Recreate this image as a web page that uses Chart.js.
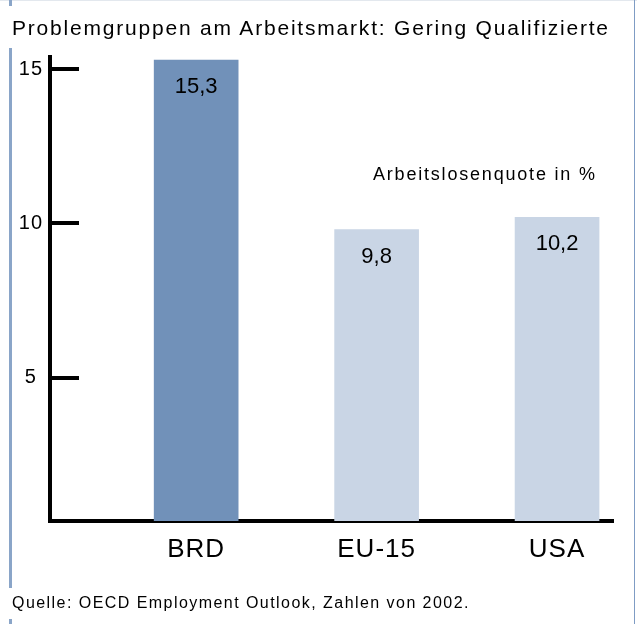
<!DOCTYPE html>
<html><head><meta charset="utf-8">
<script src="https://cdn.jsdelivr.net/npm/chart.js@4"></script>
<style>
html,body{margin:0;padding:0;background:#fff;}
#wrap{position:relative;width:637px;height:624px;overflow:hidden;font-family:"Liberation Sans",Arial,sans-serif;color:#000;}
#c{position:absolute;left:0;top:0;}
.title{position:absolute;left:12px;top:16px;font-size:21px;letter-spacing:1.8px;white-space:nowrap;}
.note{position:absolute;left:373px;top:164px;font-size:18px;letter-spacing:1.8px;white-space:nowrap;}
.src{position:absolute;left:12px;top:594px;font-size:16px;letter-spacing:1.45px;white-space:nowrap;}
.bl{position:absolute;left:9px;width:3px;background:#8aa5c8;}
.br{position:absolute;left:634px;top:0;width:1px;height:624px;background:#7f9cc4;}
.bt{position:absolute;left:0;top:0;width:637px;height:1px;background:#e3e8ee;}
</style></head><body>
<div id="wrap">
<canvas id="c" width="637" height="624"></canvas>
<div class="bt"></div>
<div class="bl" style="top:0;height:6px"></div>
<div class="bl" style="top:48px;height:540px"></div>
<div class="bl" style="top:619px;height:5px"></div>
<div class="br"></div>
<div class="title">Problemgruppen am Arbeitsmarkt: Gering Qualifizierte</div>
<div class="note">Arbeitslosenquote in %</div>
<div class="src">Quelle: OECD Employment Outlook, Zahlen von 2002.</div>
</div>
<script>
const categories = ['BRD', 'EU-15', 'USA'];
const values = [15.3, 9.8, 10.2];
const yTicks = [5, 10, 15];
const valueLabels = values.map(v => v.toFixed(1).replace('.', ','));

Chart.defaults.font.family = '"Liberation Sans", Arial, sans-serif';
Chart.defaults.color = '#000';

const textSpacing = {
  id: 'textSpacing',
  beforeDraw(chart) { chart.ctx.letterSpacing = '1px'; }
};

const yTickMarks = {
  id: 'yTickMarks',
  afterDraw(chart) {
    const {ctx, chartArea} = chart;
    const y = chart.scales.y;
    ctx.save();
    ctx.strokeStyle = '#000';
    ctx.lineWidth = 4;
    y.ticks.forEach(t => {
      const py = Math.round(y.getPixelForValue(t.value));
      ctx.beginPath();
      ctx.moveTo(chartArea.left, py);
      ctx.lineTo(chartArea.left + 29, py);
      ctx.stroke();
    });
    ctx.restore();
  }
};

const barValueLabels = {
  id: 'barValueLabels',
  afterDatasetsDraw(chart) {
    const {ctx} = chart;
    const meta = chart.getDatasetMeta(0);
    ctx.save();
    ctx.letterSpacing = '0px';
    ctx.fillStyle = '#000';
    ctx.font = '22px "Liberation Sans", Arial, sans-serif';
    ctx.textAlign = 'center';
    ctx.textBaseline = 'middle';
    meta.data.forEach((bar, i) => {
      ctx.fillText(valueLabels[i], bar.x, bar.y + 27);
    });
    ctx.restore();
  }
};

new Chart(document.getElementById('c'), {
  type: 'bar',
  data: {
    datasets: [{
      data: categories.map((c, i) => ({x: i + 1, y: values[i]})),
      backgroundColor: ['#7191b9', '#c9d5e5', '#c9d5e5'],
      borderWidth: 0,
      barThickness: 84,
      clip: 0
    }]
  },
  options: {
    responsive: false,
    animation: false,
    layout: {padding: {left: 12, top: 57, right: 24, bottom: 0}},
    plugins: {legend: {display: false}, tooltip: {enabled: false}},
    scales: {
      x: {
        type: 'linear',
        offset: false,
        min: 0.19,
        max: 3.31,
        z: 1,
        grid: {display: false, drawTicks: false},
        border: {display: true, color: '#000', width: 4},
        ticks: {
          padding: 13,
          font: {size: 26},
          color: '#000',
          callback: v => categories[v - 1]
        },
        afterBuildTicks: s => { s.ticks = categories.map((c, i) => ({value: i + 1})); },
        afterFit: s => { s.height = 103; }
      },
      y: {
        min: 0.35,
        max: 15.4,
        z: 1,
        grid: {display: false, drawTicks: false},
        border: {display: true, color: '#000', width: 4},
        ticks: {
          padding: 8,
          crossAlign: 'center',
          font: {size: 20},
          color: '#000'
        },
        afterBuildTicks: s => { s.ticks = yTicks.map(v => ({value: v})); },
        afterFit: s => { s.width = 38; }
      }
    }
  },
  plugins: [textSpacing, yTickMarks, barValueLabels]
});
</script>
</body></html>
